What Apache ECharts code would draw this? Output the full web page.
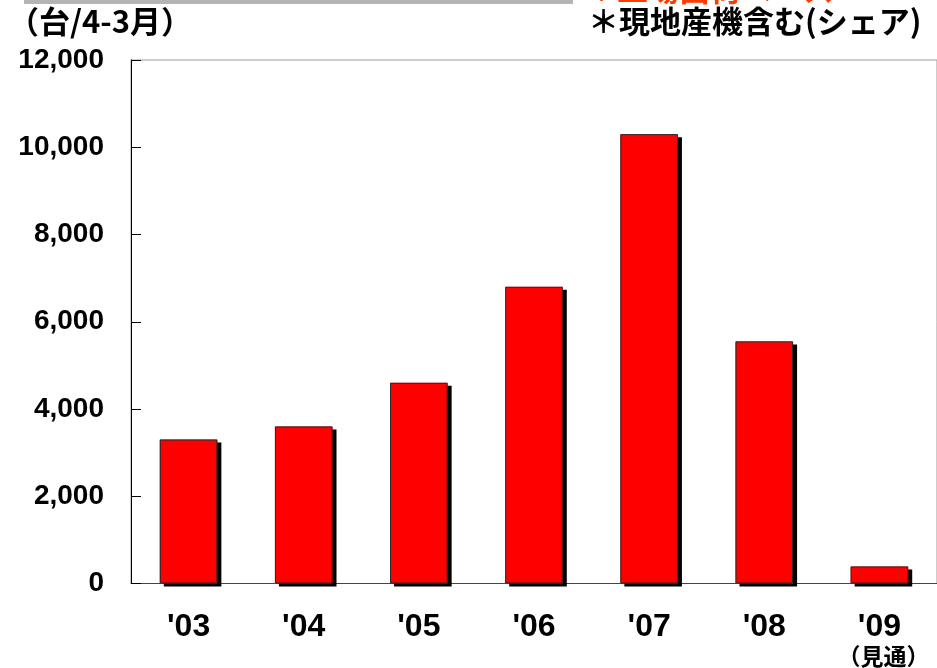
<!DOCTYPE html>
<html>
<head>
<meta charset="utf-8">
<script src="https://cdn.jsdelivr.net/npm/echarts@6/dist/echarts.min.js"></script>
<style>
  html, body { margin: 0; padding: 0; background: #fff; }
  #chart { width: 937px; height: 668px; }
</style>
</head>
<body>
<div id="chart"></div>
<script>
// 年度（4-3月）
const years = ["'03", "'04", "'05", "'06", "'07", "'08", "'09"]
// 台数（'09は見通し）
const units = [3300, 3600, 4600, 6800, 10300, 5550, 390]
const yTicks = [0, 2000, 4000, 6000, 8000, 10000, 12000]

const jpFont = '"Noto Sans CJK JP", sans-serif'

let chart = echarts.init(document.getElementById('chart'))
chart.setOption({
  animation: false,
  grid: {
    left: 131,
    top: 60,
    width: 810,
    height: 528,
    show: true,
    borderColor: '#9a9a9a',
    borderWidth: 1
  },
  graphic: [
    // 上部のグレー帯
    { type: 'rect', left: 24, top: 0, shape: { width: 549, height: 4 }, style: { fill: '#b4b4b4' } },
    // 切れた赤い見出し
    { type: 'text', left: 586, top: -26, style: { text: '＊工場出荷ベース', fill: '#ff3a00', font: 'bold 31px ' + jpFont } },
    { type: 'text', left: 8, top: 6, style: { text: '（台/4-3月）', fill: '#000', font: 'bold 31px ' + jpFont } },
    { type: 'text', left: 588, top: 6, style: { text: '＊現地産機含む(シェア)', fill: '#000', font: 'bold 31px ' + jpFont } }
  ],
  xAxis: {
    type: 'category',
    data: years,
    axisLine: { lineStyle: { color: '#444', width: 1 } },
    axisTick: { inside: true, length: 8, interval: 0, lineStyle: { color: '#000' } },
    axisLabel: {
      margin: 28,
      interval: 0,
      formatter: function (v, i) {
        return i === years.length - 1 ? '{y|' + v + '}\n{n|（見通）}' : '{y|' + v + '}'
      },
      rich: {
        y: { fontFamily: '"Liberation Sans Narrow", "Liberation Sans", sans-serif', fontWeight: 'bold', fontSize: 32, color: '#000', lineHeight: 32 },
        n: { fontFamily: jpFont, fontWeight: 'bold', fontSize: 23, color: '#000', lineHeight: 26, padding: [0, 0, 0, 8] }
      }
    }
  },
  yAxis: {
    type: 'value',
    min: yTicks[0],
    max: yTicks[yTicks.length - 1],
    interval: 2000,
    axisLine: { show: true, lineStyle: { color: '#000' } },
    axisTick: { show: true, inside: true, length: 10, lineStyle: { color: '#000' } },
    splitLine: { show: false },
    axisLabel: {
      margin: 27,
      color: '#000',
      fontFamily: '"Liberation Sans", Arial, sans-serif',
      fontWeight: 'bold',
      fontSize: 28,
      padding: [12, 0, 0, 0],
      formatter: function (v) { return v.toLocaleString('en-US') }
    }
  },
  series: [
    {
      // 影付きの本体
      type: 'bar',
      data: units,
      barWidth: '50%',
      itemStyle: {
        color: '#ff0000',
        shadowColor: '#000',
        shadowBlur: 0,
        shadowOffsetX: 4,
        shadowOffsetY: 3
      }
    },
    {
      // 枠線のみ（影なし）
      type: 'bar',
      data: units,
      barWidth: '50%',
      barGap: '-100%',
      silent: true,
      itemStyle: {
        color: 'transparent',
        borderColor: '#2a2a2a',
        borderWidth: 1
      }
    }
  ]
})
</script>
</body>
</html>
